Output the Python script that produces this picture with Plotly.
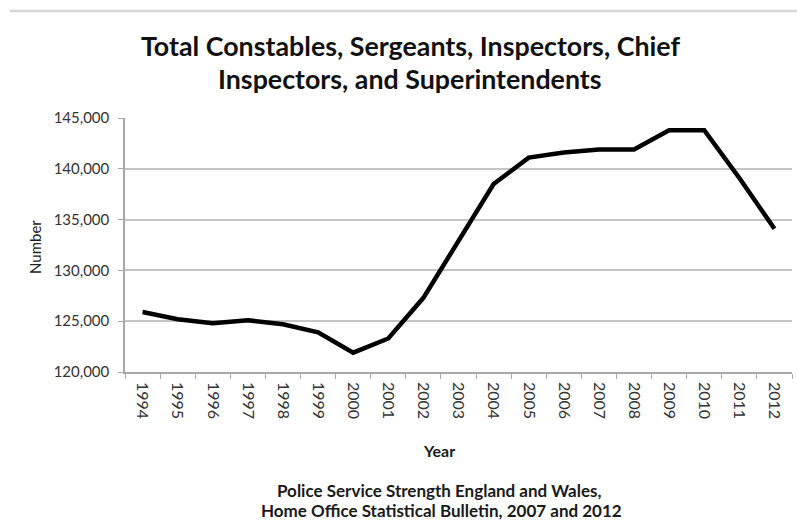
import plotly.graph_objects as go

years = [str(y) for y in range(1994, 2013)]
officers = [125900, 125200, 124800, 125100, 124700, 123900, 121900, 123300,
            127300, 133000, 138500, 141100, 141600, 141900, 141900, 143800,
            143800, 139100, 134100]
y_ticks = [120000, 125000, 130000, 135000, 140000, 145000]

title_lines = ["Total Constables, Sergeants, Inspectors, Chief",
               "Inspectors, and Superintendents"]
source_lines = ["Police Service Strength England and Wales,",
                "Home Office Statistical Bulletin, 2007 and 2012"]

W, H = 797, 522
L, R, T, B = 125, 5, 118, 150
PW, PH = W - L - R, H - T - B


def px(x, y):
    """Pixel position on the page -> paper coordinates of the plot area."""
    return (x - L) / PW, (H - B - y) / PH


def label(text, x, y, size, bold=True, color="#1a1a1a", angle=0):
    xp, yp = px(x, y)
    return dict(text=f"<b>{text}</b>" if bold else text, x=xp, y=yp,
                xref="paper", yref="paper", xanchor="center", yanchor="middle",
                showarrow=False, textangle=angle,
                font=dict(size=size, color=color))


fig = go.Figure(
    go.Scatter(
        x=years, y=officers, mode="lines",
        line=dict(color="black", width=4.5),
        hoverinfo="x+y",
    )
)

x0p, y0p = px(10, 11)
x1p, _ = px(W, 11)

fig.update_layout(
    width=W, height=H,
    margin=dict(l=L, r=R, t=T, b=B),
    paper_bgcolor="white", plot_bgcolor="white",
    showlegend=False,
    font=dict(family="Lato, Open Sans, sans-serif", color="#333333"),
    annotations=[
        label(title_lines[0], 410, 46, 26.8, color="#111111"),
        label(title_lines[1], 410, 79, 26.8, color="#111111"),
        label("Year", 439, 450, 16),
        label(source_lines[0], 439, 490, 17),
        label(source_lines[1], 441, 510, 17),
        label("Number", 35, 247, 15, bold=False, color="#222222", angle=-90),
    ],
    shapes=[
        dict(type="line", xref="paper", yref="paper", x0=x0p, x1=x1p,
             y0=y0p, y1=y0p, line=dict(color="#d6d6d6", width=2.5)),
    ],
)

fig.update_xaxes(
    type="category", range=[-0.5, 18.5],
    tickangle=90, tickson="boundaries", ticks="outside", ticklen=5,
    tickcolor="#a8a8a8", showline=True, linecolor="#a8a8a8", linewidth=1.5,
    showgrid=False, tickfont=dict(size=16, color="#333333"),
    ticklabelstandoff=5,
)
fig.update_yaxes(
    range=[120000, 145000], tickvals=y_ticks, tickformat=",",
    ticks="outside", ticklen=5, tickcolor="#a8a8a8",
    showline=True, linecolor="#a8a8a8", linewidth=1.5,
    showgrid=True, gridcolor="#c4c4c4", gridwidth=1.5,
    tickfont=dict(size=15, color="#333333"), zeroline=False,
    ticklabelstandoff=6,
)

fig.write_html("out.html")
